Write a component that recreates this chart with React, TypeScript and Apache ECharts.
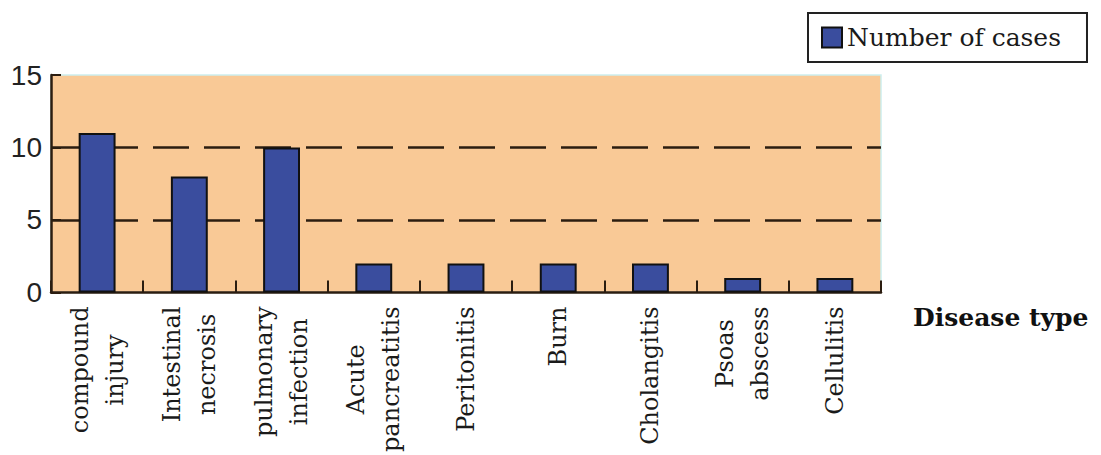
import React, { useEffect, useRef } from "react";
import * as echarts from "echarts";

const categories = [
  "compound\ninjury",
  "Intestinal\nnecrosis",
  "pulmonary\ninfection",
  "Acute\npancreatitis",
  "Peritonitis",
  "Burn",
  "Cholangitis",
  "Psoas\nabscess",
  "Cellulitis",
];
const caseCounts = [11, 8, 10, 2, 2, 2, 2, 1, 1];
const seriesName = "Number of cases";
const xAxisTitle = "Disease type";

const AXIS_COLOR = "#2b1d10";
const SERIF = "'DejaVu Serif', serif";

export default function App() {
  const ref = useRef<HTMLDivElement>(null);

  useEffect(() => {
    if (!ref.current) return;
    const chart = echarts.init(ref.current, undefined, { renderer: "svg" });
    chart.setOption({
      animation: false,
      backgroundColor: "#ffffff",
      legend: {
        show: true,
        left: 808,
        top: 13,
        orient: "horizontal",
        backgroundColor: "#ffffff",
        borderColor: "#222222",
        borderWidth: 2,
        borderRadius: 0,
        padding: [12, 26, 12, 13],
        itemWidth: 20,
        itemHeight: 20,
        icon: "rect",
        textStyle: { fontFamily: SERIF, fontSize: 25, color: "#1a1a1a" },
        data: [seriesName],
      },
      grid: {
        left: 51,
        right: 220,
        top: 75,
        bottom: 160,
        show: true,
        backgroundColor: "#f9c996",
        borderColor: "#cdeeee",
        borderWidth: 1.5,
      },
      xAxis: {
        type: "category",
        data: categories,
        name: xAxisTitle,
        nameLocation: "end",
        nameGap: 32,
        nameTextStyle: {
          fontFamily: SERIF,
          fontWeight: "bold",
          fontSize: 25,
          color: "#111111",
          align: "left",
          verticalAlign: "top",
          padding: [13, 0, 0, 0],
        },
        axisLine: { show: true, lineStyle: { color: AXIS_COLOR, width: 2.5 } },
        axisTick: { show: true, inside: true, length: 12, lineStyle: { color: AXIS_COLOR, width: 2 } },
        axisLabel: {
          rotate: 90,
          margin: 14,
          interval: 0,
          formatter: (v: string) => v.split("\n").map((l) => `{c|${l}}`).join("\n"),
          rich: {
            c: {
              align: "center",
              fontFamily: SERIF,
              fontSize: 24,
              lineHeight: 35,
              color: "#1a1a1a",
            },
          },
        },
        splitLine: { show: false },
      },
      yAxis: {
        type: "value",
        min: 0,
        max: 15,
        interval: 5,
        axisLine: { show: true, lineStyle: { color: AXIS_COLOR, width: 2.5 } },
        axisTick: { show: true, inside: true, length: 10, lineStyle: { color: AXIS_COLOR, width: 2 } },
        axisLabel: {
          margin: 9,
          fontFamily: "'Liberation Sans', sans-serif",
          fontSize: 28,
          color: "#222222",
        },
        splitLine: {
          show: true,
          showMinLine: false,
          showMaxLine: false,
          lineStyle: { color: AXIS_COLOR, width: 2.5, type: [36, 15] },
        },
      },
      series: [
        {
          name: seriesName,
          type: "bar",
          data: caseCounts,
          barWidth: "40%",
          itemStyle: { color: "#3a4d9e", borderColor: "#111111", borderWidth: 2 },
        },
      ],
    });
    return () => chart.dispose();
  }, []);

  return (
    <div
      ref={ref}
      style={{ position: "fixed", left: 0, top: 0, width: 1101, height: 455 }}
    />
  );
}
